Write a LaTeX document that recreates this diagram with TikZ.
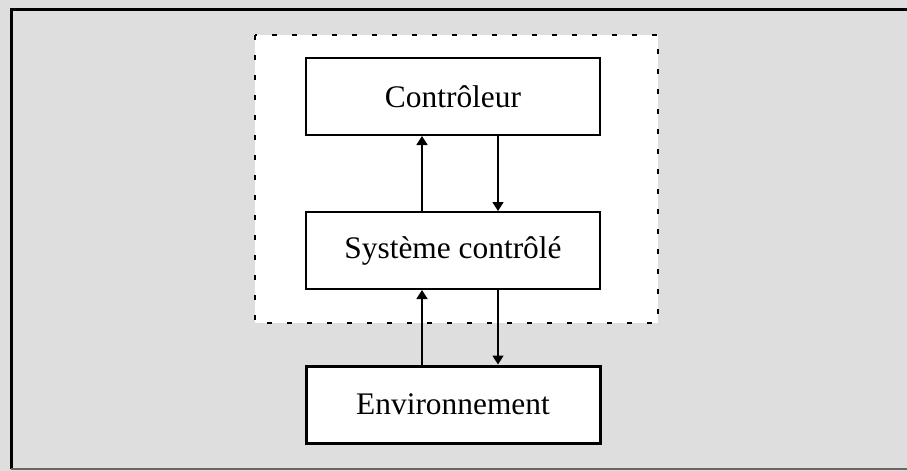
\documentclass[tikz,border=0pt]{standalone}
\usepackage{fontspec}
\setmainfont{Liberation Serif}
\usetikzlibrary{arrows.meta}
\definecolor{stipple}{gray}{0.87}
\tikzset{
  box/.style={draw=black, line width=1pt, fill=white, minimum width=147pt, minimum height=38.5pt, inner sep=0pt, font=\fontsize{15.7}{18}\selectfont},
  envbox/.style={box, line width=1.5pt},
  flow/.style={draw=black, line width=0.8pt, -{Triangle[width=5.5pt,length=4.5pt]}},
  region/.style={draw=black, line width=1.3pt, dash pattern=on 2.3pt off 7.7pt, fill=white}
}
\begin{document}
\begin{tikzpicture}[x=0.5pt,y=-0.5pt]
\useasboundingbox (0,0) rectangle (907,471);
\fill[stipple] (0,0) rectangle (907,471);
\draw[line width=1.5pt, line cap=butt] (11,469) -- (11,9.5) -- (907,9.5);
\draw[line width=0.6pt, black!60, line cap=butt] (11,469) -- (907,469);
\draw[region] (255,35) rectangle (658,323);
\node[box] (ctrl) at (453,96.5) {Contrôleur};
\node[box] (sys) at (453,250.5) {Système contrôlé};
\node[envbox] (env) at (453,404.5) {Environnement};
\draw[flow] (sys.north -| 422,0) -- (ctrl.south -| 422,0);
\draw[flow] (ctrl.south -| 498,0) -- (sys.north -| 498,0);
\draw[flow] (env.north -| 422,0) -- (sys.south -| 422,0);
\draw[flow] (sys.south -| 498,0) -- (env.north -| 498,0);
\end{tikzpicture}
\end{document}
